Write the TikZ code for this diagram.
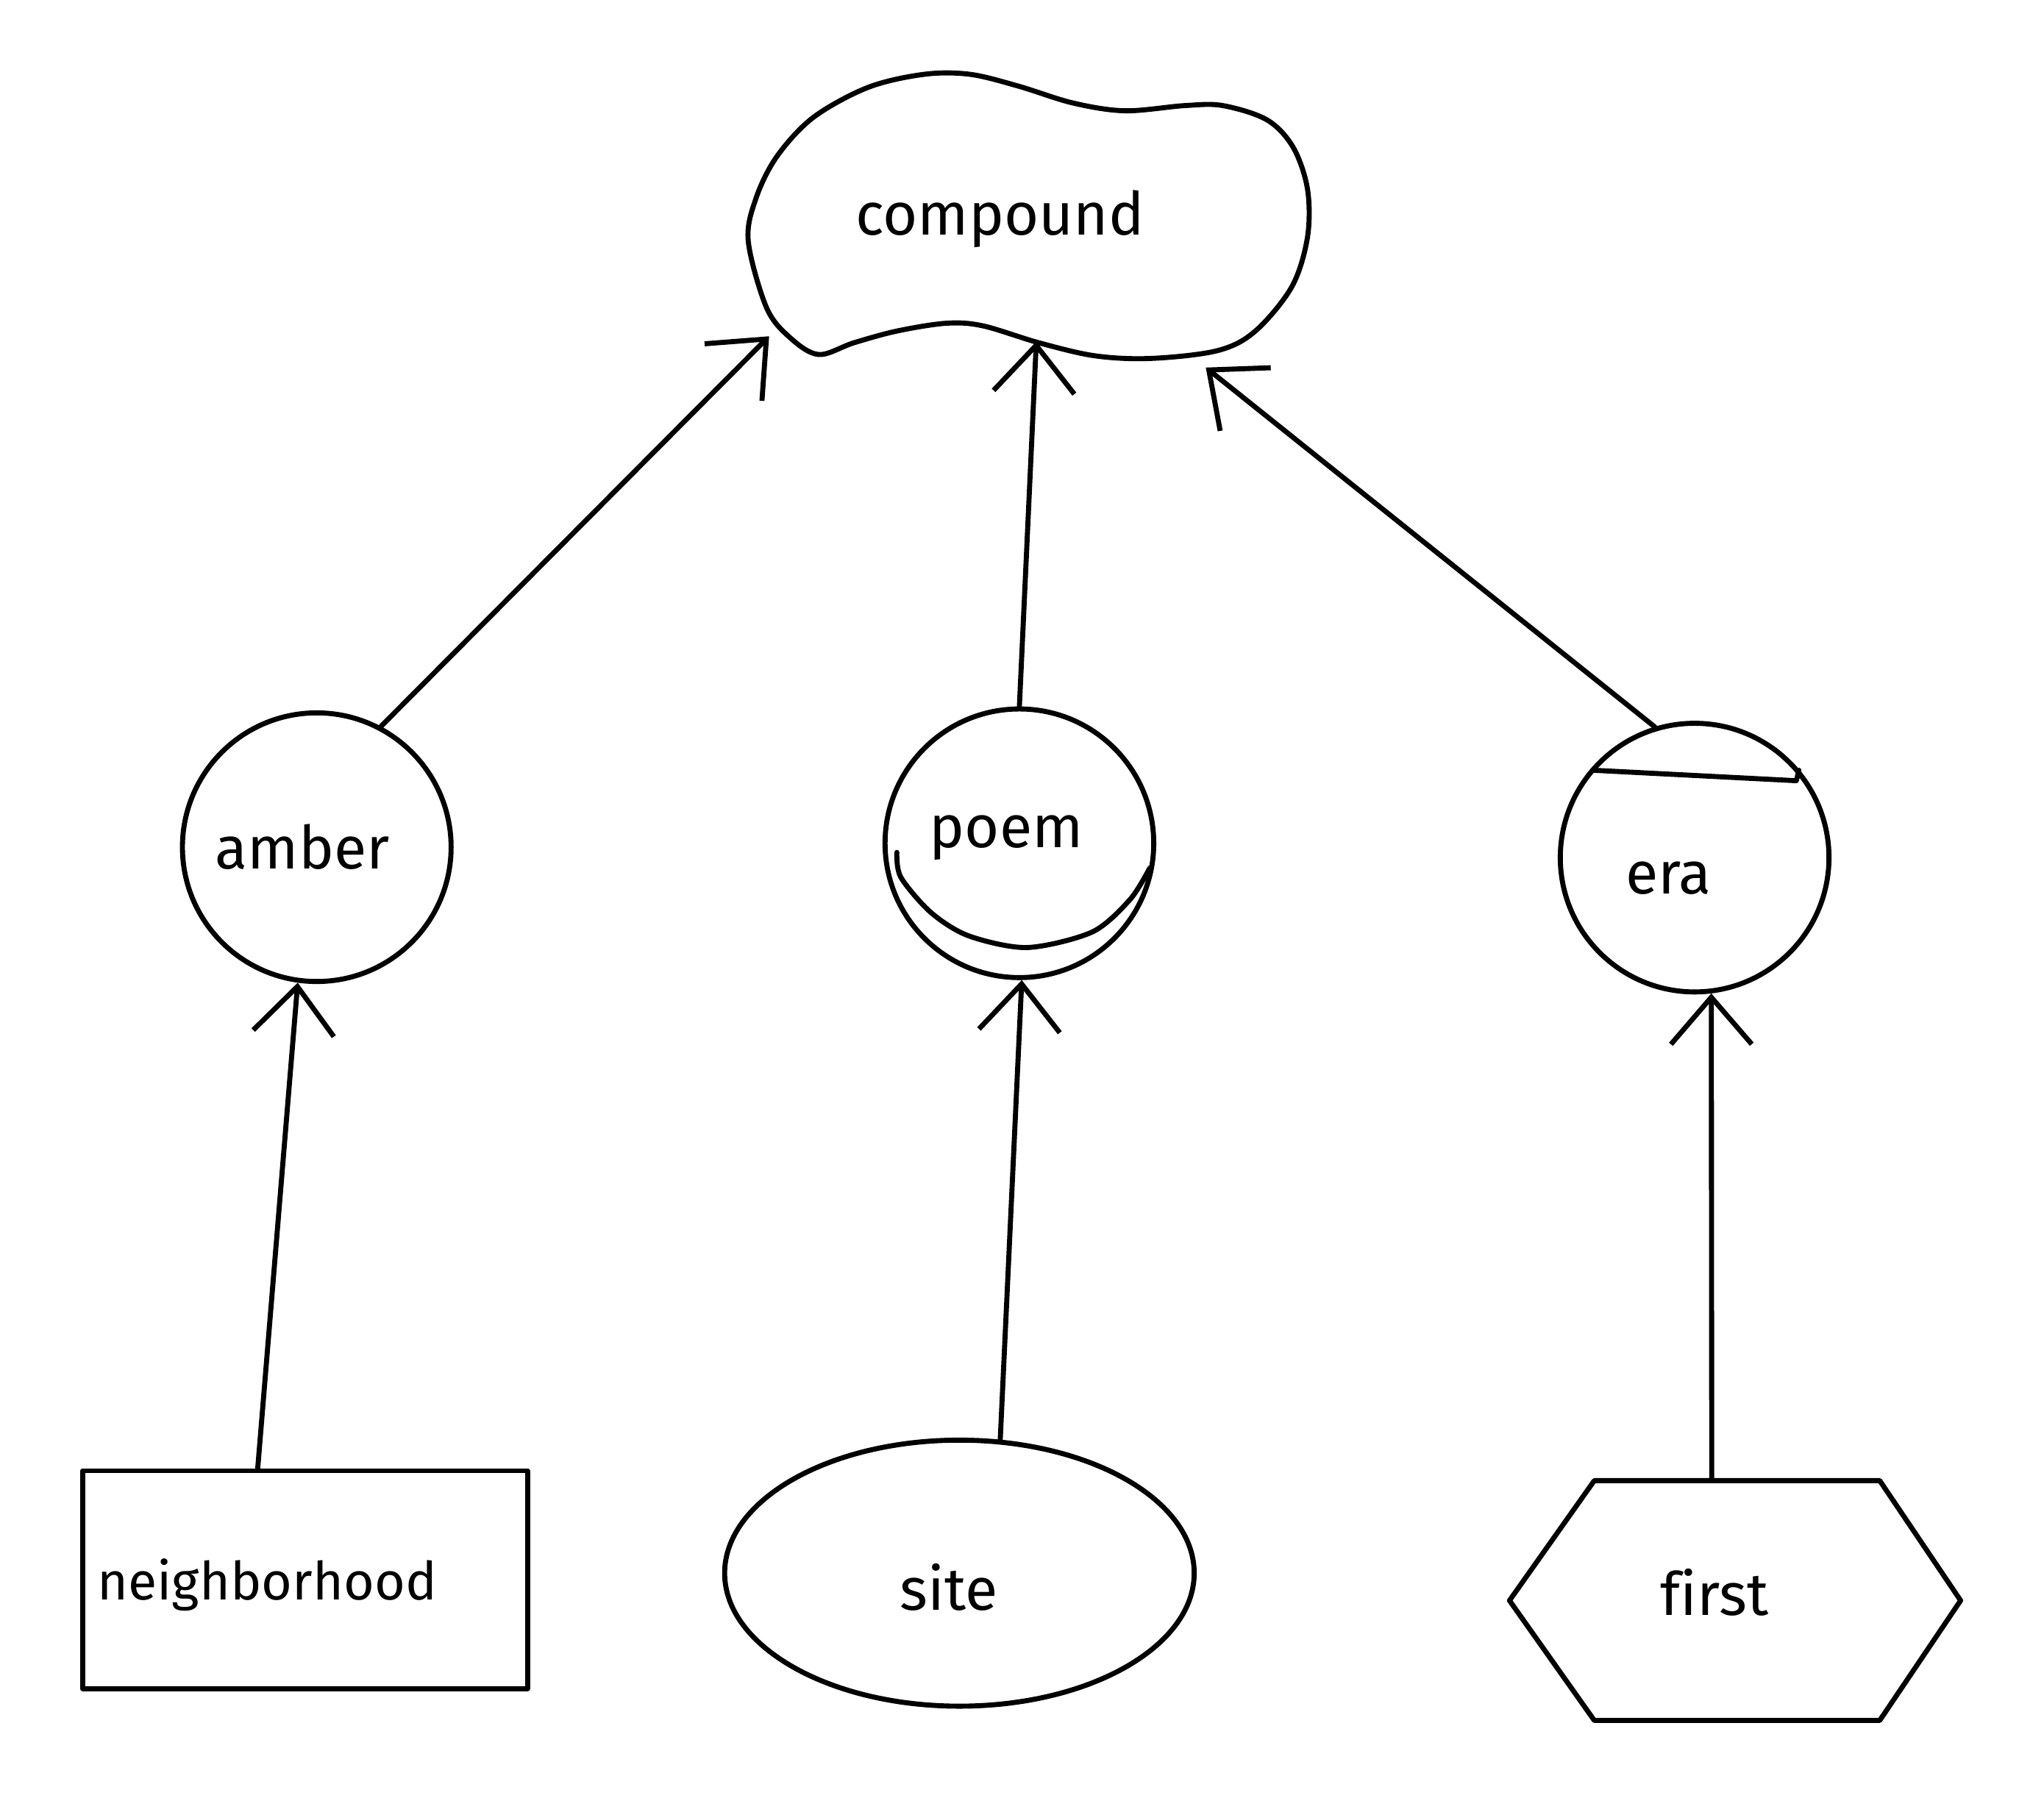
\documentclass[tikz,border=0pt]{standalone}
\usepackage{fontspec}
\setmainfont{Fira Sans}[Ligatures=CommonOff]
\usetikzlibrary{arrows.meta,shapes.geometric}
\begin{document}
\begin{tikzpicture}[x=0.01cm,y=-0.01cm, line width=1.1pt, line cap=round, line join=round,
  every node/.style={font=\fontsize{13}{15}\selectfont},
  arr/.style={-{Straight Barb[length=0.36cm,width=0.62cm]}},
  circ/.style={circle,draw,minimum size=2.06cm,inner sep=0pt}]
\useasboundingbox (0,0) rectangle (1568,1390);
\fill[white] (0,0) rectangle (1568,1390);
% compound blob
\draw plot[smooth cycle, tension=0.55] coordinates {(574,185) (580,152) (596,120) (624,90) (666,67) (709,57) (744,57) (781,66) (823,79) (863,85) (909,81) (938,81) (972,92) (992,113) (1003,145) (1003,182) (991,220) (963,254) (934,269) (883,275) (840,273) (797,263) (754,250) (726,248) (688,254) (655,263) (628,272) (606,259) (588,236)};
\node (compound) at (767,168) {compound};
\coordinate (cA) at (590,258);
\coordinate (cB) at (795,262);
\coordinate (cC) at (925,282);
% middle row
\node[circ] (amber) at (243,650) {};
\node (amberT) at (232,650) {amber};
\node[circ] (poem) at (782,647) {};
\node (poemT) at (772,643) {poem};
\node[circ] (era) at (1300,658) {};
\node (eraT) at (1280,674) {era};
\draw plot[smooth] coordinates {(688,654) (691,673) (714,700) (743,718) (788,727) (838,715) (867,690) (882,666)};
\draw (1223,591) -- (1378,599) -- (1380,591);
% bottom row
\node[draw, minimum width=3.41cm, minimum height=1.67cm, inner sep=0pt] (neigh) at (234,1212) {};
\node[font=\fontsize{11.5}{14}\selectfont] (neighT) at (205,1216) {neighborhood};
\node[ellipse, draw, minimum width=3.6cm, minimum height=2.04cm, inner sep=0pt] (site) at (736,1207) {};
\node (siteT) at (728,1218) {site};
\node[minimum width=3.42cm, minimum height=1.8cm, inner sep=0pt] (first) at (1331,1228) {};
\node (firstT) at (1315,1222) {first};
\draw (first.west) -- ([xshift=0.65cm]first.north west) -- ([xshift=-0.62cm]first.north east) -- (first.east) -- ([xshift=-0.62cm]first.south east) -- ([xshift=0.65cm]first.south west) -- cycle;
% connectors
\draw[arr] (amber.62) -- (cA);
\draw[arr] (poem.90) -- (cB);
\draw[arr] (era.107) -- (cC);
\draw[arr] (neigh.113) -- (amber.262);
\draw[arr] (site.73) -- (poem.271);
\draw[arr] (first.101) -- (era.277);
\end{tikzpicture}
\end{document}
